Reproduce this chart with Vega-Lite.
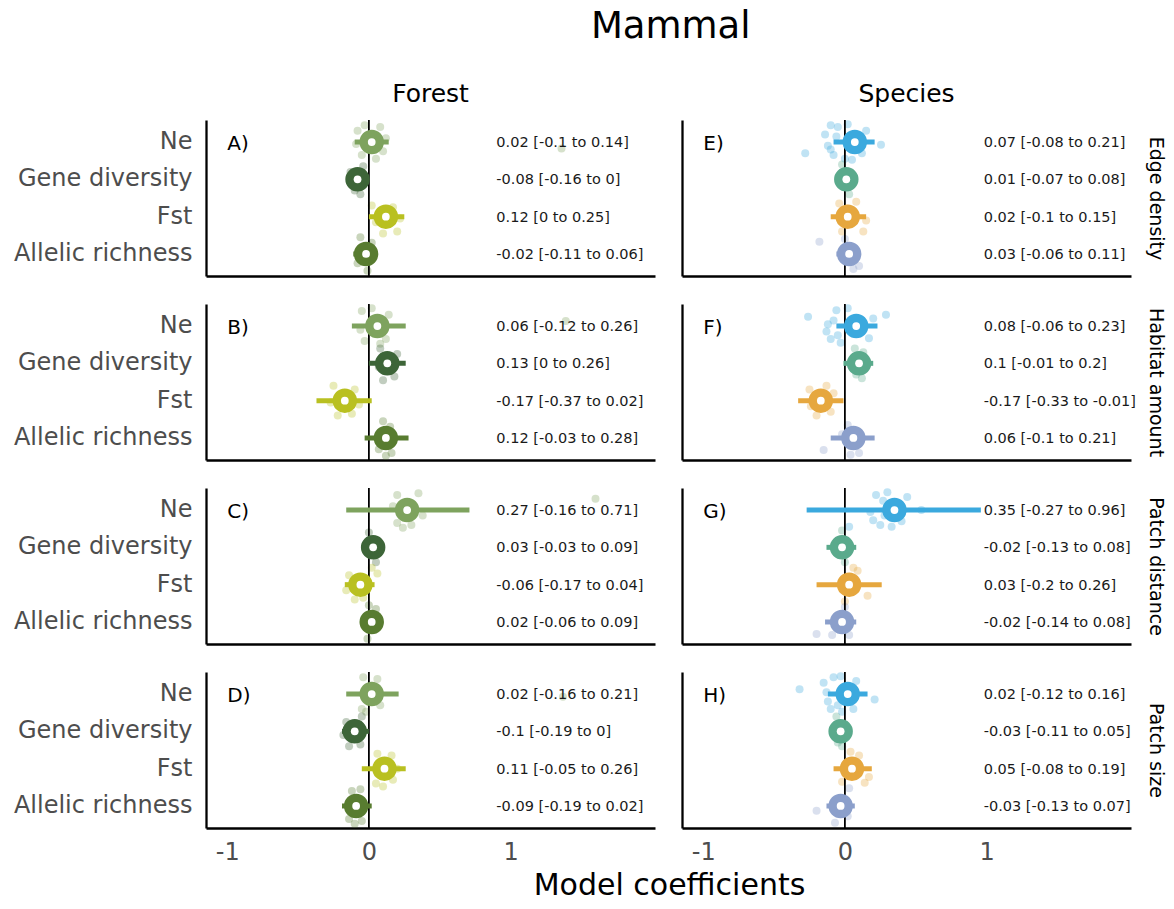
{
  "$schema": "https://vega.github.io/schema/vega-lite/v6.json",
  "padding": {"left": 13, "top": 8, "right": 5, "bottom": 5},
  "background": "white",
  "title": {"text": "Mammal", "fontSize": 37, "anchor": "middle", "dx": 82, "offset": 36},
  "datasets": {
    "est": [
      {"set": "Forest", "eff": "Edge density", "var": "Ne", "est": 0.02, "lo": -0.1, "hi": 0.14},
      {"set": "Forest", "eff": "Edge density", "var": "Gene diversity", "est": -0.08, "lo": -0.16, "hi": 0},
      {"set": "Forest", "eff": "Edge density", "var": "Fst", "est": 0.12, "lo": 0, "hi": 0.25},
      {"set": "Forest", "eff": "Edge density", "var": "Allelic richness", "est": -0.02, "lo": -0.11, "hi": 0.06},
      {"set": "Forest", "eff": "Habitat amount", "var": "Ne", "est": 0.06, "lo": -0.12, "hi": 0.26},
      {"set": "Forest", "eff": "Habitat amount", "var": "Gene diversity", "est": 0.13, "lo": 0, "hi": 0.26},
      {"set": "Forest", "eff": "Habitat amount", "var": "Fst", "est": -0.17, "lo": -0.37, "hi": 0.02},
      {"set": "Forest", "eff": "Habitat amount", "var": "Allelic richness", "est": 0.12, "lo": -0.03, "hi": 0.28},
      {"set": "Forest", "eff": "Patch distance", "var": "Ne", "est": 0.27, "lo": -0.16, "hi": 0.71},
      {"set": "Forest", "eff": "Patch distance", "var": "Gene diversity", "est": 0.03, "lo": -0.03, "hi": 0.09},
      {"set": "Forest", "eff": "Patch distance", "var": "Fst", "est": -0.06, "lo": -0.17, "hi": 0.04},
      {"set": "Forest", "eff": "Patch distance", "var": "Allelic richness", "est": 0.02, "lo": -0.06, "hi": 0.09},
      {"set": "Forest", "eff": "Patch size", "var": "Ne", "est": 0.02, "lo": -0.16, "hi": 0.21},
      {"set": "Forest", "eff": "Patch size", "var": "Gene diversity", "est": -0.1, "lo": -0.19, "hi": 0},
      {"set": "Forest", "eff": "Patch size", "var": "Fst", "est": 0.11, "lo": -0.05, "hi": 0.26},
      {"set": "Forest", "eff": "Patch size", "var": "Allelic richness", "est": -0.09, "lo": -0.19, "hi": 0.02},
      {"set": "Species", "eff": "Edge density", "var": "Ne", "est": 0.07, "lo": -0.08, "hi": 0.21},
      {"set": "Species", "eff": "Edge density", "var": "Gene diversity", "est": 0.01, "lo": -0.07, "hi": 0.08},
      {"set": "Species", "eff": "Edge density", "var": "Fst", "est": 0.02, "lo": -0.1, "hi": 0.15},
      {"set": "Species", "eff": "Edge density", "var": "Allelic richness", "est": 0.03, "lo": -0.06, "hi": 0.11},
      {"set": "Species", "eff": "Habitat amount", "var": "Ne", "est": 0.08, "lo": -0.06, "hi": 0.23},
      {"set": "Species", "eff": "Habitat amount", "var": "Gene diversity", "est": 0.1, "lo": -0.01, "hi": 0.2},
      {"set": "Species", "eff": "Habitat amount", "var": "Fst", "est": -0.17, "lo": -0.33, "hi": -0.01},
      {"set": "Species", "eff": "Habitat amount", "var": "Allelic richness", "est": 0.06, "lo": -0.1, "hi": 0.21},
      {"set": "Species", "eff": "Patch distance", "var": "Ne", "est": 0.35, "lo": -0.27, "hi": 0.96},
      {"set": "Species", "eff": "Patch distance", "var": "Gene diversity", "est": -0.02, "lo": -0.13, "hi": 0.08},
      {"set": "Species", "eff": "Patch distance", "var": "Fst", "est": 0.03, "lo": -0.2, "hi": 0.26},
      {"set": "Species", "eff": "Patch distance", "var": "Allelic richness", "est": -0.02, "lo": -0.14, "hi": 0.08},
      {"set": "Species", "eff": "Patch size", "var": "Ne", "est": 0.02, "lo": -0.12, "hi": 0.16},
      {"set": "Species", "eff": "Patch size", "var": "Gene diversity", "est": -0.03, "lo": -0.11, "hi": 0.05},
      {"set": "Species", "eff": "Patch size", "var": "Fst", "est": 0.05, "lo": -0.08, "hi": 0.19},
      {"set": "Species", "eff": "Patch size", "var": "Allelic richness", "est": -0.03, "lo": -0.13, "hi": 0.07}
    ],
    "pts": [
      {"set": "Forest", "eff": "Edge density", "var": "Ne", "x": -0.08, "j": -0.6},
      {"set": "Forest", "eff": "Edge density", "var": "Ne", "x": -0.05, "j": 0.7},
      {"set": "Forest", "eff": "Edge density", "var": "Ne", "x": 0.08, "j": -0.8},
      {"set": "Forest", "eff": "Edge density", "var": "Ne", "x": 0.1, "j": 0.5},
      {"set": "Forest", "eff": "Edge density", "var": "Ne", "x": -0.03, "j": -0.9},
      {"set": "Forest", "eff": "Edge density", "var": "Ne", "x": 0.05, "j": 0.9},
      {"set": "Forest", "eff": "Edge density", "var": "Ne", "x": 1.36, "j": 0.35},
      {"set": "Forest", "eff": "Edge density", "var": "Ne", "x": -0.09, "j": 0.1},
      {"set": "Forest", "eff": "Edge density", "var": "Ne", "x": 0.12, "j": -0.2},
      {"set": "Forest", "eff": "Edge density", "var": "Gene diversity", "x": -0.13, "j": -0.4},
      {"set": "Forest", "eff": "Edge density", "var": "Gene diversity", "x": -0.1, "j": 0.6},
      {"set": "Forest", "eff": "Edge density", "var": "Gene diversity", "x": -0.04, "j": -0.7},
      {"set": "Forest", "eff": "Edge density", "var": "Gene diversity", "x": -0.06, "j": 0.8},
      {"set": "Forest", "eff": "Edge density", "var": "Fst", "x": 0.02, "j": -0.6},
      {"set": "Forest", "eff": "Edge density", "var": "Fst", "x": 0.1, "j": 0.9},
      {"set": "Forest", "eff": "Edge density", "var": "Fst", "x": 0.2, "j": 0.8},
      {"set": "Forest", "eff": "Edge density", "var": "Fst", "x": 0.05, "j": 0.3},
      {"set": "Forest", "eff": "Edge density", "var": "Fst", "x": 0.17, "j": -0.5},
      {"set": "Forest", "eff": "Edge density", "var": "Fst", "x": 0.22, "j": 0.1},
      {"set": "Forest", "eff": "Edge density", "var": "Allelic richness", "x": -0.06, "j": -0.9},
      {"set": "Forest", "eff": "Edge density", "var": "Allelic richness", "x": -0.01, "j": 0.9},
      {"set": "Forest", "eff": "Edge density", "var": "Allelic richness", "x": -0.08, "j": 0.5},
      {"set": "Forest", "eff": "Edge density", "var": "Allelic richness", "x": 0.02, "j": -0.6},
      {"set": "Forest", "eff": "Edge density", "var": "Allelic richness", "x": -0.04, "j": 0.3},
      {"set": "Forest", "eff": "Habitat amount", "var": "Ne", "x": -0.05, "j": -0.8},
      {"set": "Forest", "eff": "Habitat amount", "var": "Ne", "x": 0.12, "j": 0.7},
      {"set": "Forest", "eff": "Habitat amount", "var": "Ne", "x": -0.03, "j": 0.8},
      {"set": "Forest", "eff": "Habitat amount", "var": "Ne", "x": 0.14, "j": -0.6},
      {"set": "Forest", "eff": "Habitat amount", "var": "Ne", "x": 0.02, "j": -0.95},
      {"set": "Forest", "eff": "Habitat amount", "var": "Ne", "x": 1.39, "j": -0.27},
      {"set": "Forest", "eff": "Habitat amount", "var": "Ne", "x": -0.06, "j": 0.2},
      {"set": "Forest", "eff": "Habitat amount", "var": "Ne", "x": 0.08, "j": 0.95},
      {"set": "Forest", "eff": "Habitat amount", "var": "Gene diversity", "x": 0.08, "j": -0.8},
      {"set": "Forest", "eff": "Habitat amount", "var": "Gene diversity", "x": 0.2, "j": -0.5},
      {"set": "Forest", "eff": "Habitat amount", "var": "Gene diversity", "x": 0.18, "j": 0.7},
      {"set": "Forest", "eff": "Habitat amount", "var": "Gene diversity", "x": 0.1, "j": 0.9},
      {"set": "Forest", "eff": "Habitat amount", "var": "Gene diversity", "x": 0.07, "j": 0.2},
      {"set": "Forest", "eff": "Habitat amount", "var": "Fst", "x": -0.25, "j": -0.8},
      {"set": "Forest", "eff": "Habitat amount", "var": "Fst", "x": -0.1, "j": -0.6},
      {"set": "Forest", "eff": "Habitat amount", "var": "Fst", "x": -0.22, "j": 0.8},
      {"set": "Forest", "eff": "Habitat amount", "var": "Fst", "x": -0.12, "j": 0.7},
      {"set": "Forest", "eff": "Habitat amount", "var": "Fst", "x": -0.27, "j": 0.1},
      {"set": "Forest", "eff": "Habitat amount", "var": "Fst", "x": -0.07, "j": 0.2},
      {"set": "Forest", "eff": "Habitat amount", "var": "Allelic richness", "x": 0.1, "j": -0.9},
      {"set": "Forest", "eff": "Habitat amount", "var": "Allelic richness", "x": 0.16, "j": 0.8},
      {"set": "Forest", "eff": "Habitat amount", "var": "Allelic richness", "x": 0.07, "j": 0.6},
      {"set": "Forest", "eff": "Habitat amount", "var": "Allelic richness", "x": 0.15, "j": -0.6},
      {"set": "Forest", "eff": "Habitat amount", "var": "Allelic richness", "x": 0.12, "j": 0.95},
      {"set": "Forest", "eff": "Patch distance", "var": "Ne", "x": 0.2, "j": -0.8},
      {"set": "Forest", "eff": "Patch distance", "var": "Ne", "x": 0.35, "j": -0.9},
      {"set": "Forest", "eff": "Patch distance", "var": "Ne", "x": 0.2, "j": 0.7},
      {"set": "Forest", "eff": "Patch distance", "var": "Ne", "x": 0.3, "j": 0.8},
      {"set": "Forest", "eff": "Patch distance", "var": "Ne", "x": 0.38, "j": 0.3},
      {"set": "Forest", "eff": "Patch distance", "var": "Ne", "x": 0.17, "j": -0.2},
      {"set": "Forest", "eff": "Patch distance", "var": "Ne", "x": 1.6, "j": -0.6},
      {"set": "Forest", "eff": "Patch distance", "var": "Ne", "x": 0.24, "j": 0.95},
      {"set": "Forest", "eff": "Patch distance", "var": "Gene diversity", "x": 0.0, "j": -0.8},
      {"set": "Forest", "eff": "Patch distance", "var": "Gene diversity", "x": 0.05, "j": 0.8},
      {"set": "Forest", "eff": "Patch distance", "var": "Gene diversity", "x": -0.02, "j": 0.2},
      {"set": "Forest", "eff": "Patch distance", "var": "Fst", "x": -0.14, "j": -0.5},
      {"set": "Forest", "eff": "Patch distance", "var": "Fst", "x": -0.1, "j": 0.8},
      {"set": "Forest", "eff": "Patch distance", "var": "Fst", "x": 0.06, "j": -0.6},
      {"set": "Forest", "eff": "Patch distance", "var": "Fst", "x": -0.04, "j": 0.7},
      {"set": "Forest", "eff": "Patch distance", "var": "Fst", "x": -0.16, "j": 0.3},
      {"set": "Forest", "eff": "Patch distance", "var": "Fst", "x": 0.02, "j": -0.9},
      {"set": "Forest", "eff": "Patch distance", "var": "Allelic richness", "x": 0.0, "j": -0.9},
      {"set": "Forest", "eff": "Patch distance", "var": "Allelic richness", "x": 0.05, "j": -0.7},
      {"set": "Forest", "eff": "Patch distance", "var": "Allelic richness", "x": -0.01, "j": 0.9},
      {"set": "Forest", "eff": "Patch size", "var": "Ne", "x": -0.04, "j": -0.9},
      {"set": "Forest", "eff": "Patch size", "var": "Ne", "x": 0.06, "j": -0.8},
      {"set": "Forest", "eff": "Patch size", "var": "Ne", "x": -0.05, "j": 0.8},
      {"set": "Forest", "eff": "Patch size", "var": "Ne", "x": 0.08, "j": 0.6},
      {"set": "Forest", "eff": "Patch size", "var": "Ne", "x": 1.37, "j": 0.15},
      {"set": "Forest", "eff": "Patch size", "var": "Ne", "x": -0.02, "j": 0.95},
      {"set": "Forest", "eff": "Patch size", "var": "Gene diversity", "x": -0.16, "j": -0.5},
      {"set": "Forest", "eff": "Patch size", "var": "Gene diversity", "x": -0.05, "j": -0.8},
      {"set": "Forest", "eff": "Patch size", "var": "Gene diversity", "x": -0.14, "j": 0.8},
      {"set": "Forest", "eff": "Patch size", "var": "Gene diversity", "x": -0.06, "j": 0.7},
      {"set": "Forest", "eff": "Patch size", "var": "Gene diversity", "x": -0.18, "j": 0.2},
      {"set": "Forest", "eff": "Patch size", "var": "Fst", "x": 0.06, "j": -0.8},
      {"set": "Forest", "eff": "Patch size", "var": "Fst", "x": 0.16, "j": -0.7},
      {"set": "Forest", "eff": "Patch size", "var": "Fst", "x": 0.05, "j": 0.8},
      {"set": "Forest", "eff": "Patch size", "var": "Fst", "x": 0.17, "j": 0.6},
      {"set": "Forest", "eff": "Patch size", "var": "Fst", "x": 0.2, "j": 0.0},
      {"set": "Forest", "eff": "Patch size", "var": "Fst", "x": 0.1, "j": 0.95},
      {"set": "Forest", "eff": "Patch size", "var": "Allelic richness", "x": -0.12, "j": -0.8},
      {"set": "Forest", "eff": "Patch size", "var": "Allelic richness", "x": -0.06, "j": -0.9},
      {"set": "Forest", "eff": "Patch size", "var": "Allelic richness", "x": -0.14, "j": 0.7},
      {"set": "Forest", "eff": "Patch size", "var": "Allelic richness", "x": -0.05, "j": 0.8},
      {"set": "Forest", "eff": "Patch size", "var": "Allelic richness", "x": -0.1, "j": 0.95},
      {"set": "Species", "eff": "Edge density", "var": "Ne", "x": -0.28, "j": 0.6},
      {"set": "Species", "eff": "Edge density", "var": "Ne", "x": 0.255, "j": 0.15},
      {"set": "Species", "eff": "Edge density", "var": "Ne", "x": -0.1, "j": -0.9},
      {"set": "Species", "eff": "Edge density", "var": "Ne", "x": -0.05, "j": -0.8},
      {"set": "Species", "eff": "Edge density", "var": "Ne", "x": 0.02, "j": -0.95},
      {"set": "Species", "eff": "Edge density", "var": "Ne", "x": -0.12, "j": 0.2},
      {"set": "Species", "eff": "Edge density", "var": "Ne", "x": -0.08, "j": 0.7},
      {"set": "Species", "eff": "Edge density", "var": "Ne", "x": 0.0, "j": 0.9},
      {"set": "Species", "eff": "Edge density", "var": "Ne", "x": 0.12, "j": 0.6},
      {"set": "Species", "eff": "Edge density", "var": "Ne", "x": -0.14, "j": -0.4},
      {"set": "Species", "eff": "Edge density", "var": "Ne", "x": 0.15, "j": -0.6},
      {"set": "Species", "eff": "Edge density", "var": "Ne", "x": -0.1, "j": 0.4},
      {"set": "Species", "eff": "Edge density", "var": "Ne", "x": 0.05, "j": 0.95},
      {"set": "Species", "eff": "Edge density", "var": "Ne", "x": -0.06, "j": -0.3},
      {"set": "Species", "eff": "Edge density", "var": "Gene diversity", "x": -0.02, "j": -0.8},
      {"set": "Species", "eff": "Edge density", "var": "Gene diversity", "x": 0.03, "j": 0.8},
      {"set": "Species", "eff": "Edge density", "var": "Fst", "x": -0.04, "j": -0.7},
      {"set": "Species", "eff": "Edge density", "var": "Fst", "x": 0.15, "j": 0.2},
      {"set": "Species", "eff": "Edge density", "var": "Fst", "x": 0.13, "j": 0.8},
      {"set": "Species", "eff": "Edge density", "var": "Fst", "x": 0.08, "j": -0.8},
      {"set": "Species", "eff": "Edge density", "var": "Fst", "x": -0.02, "j": 0.8},
      {"set": "Species", "eff": "Edge density", "var": "Allelic richness", "x": -0.18, "j": -0.65},
      {"set": "Species", "eff": "Edge density", "var": "Allelic richness", "x": 0.1, "j": 0.65},
      {"set": "Species", "eff": "Edge density", "var": "Allelic richness", "x": 0.06, "j": 0.8},
      {"set": "Species", "eff": "Edge density", "var": "Allelic richness", "x": 0.0, "j": -0.8},
      {"set": "Species", "eff": "Habitat amount", "var": "Ne", "x": -0.26, "j": -0.5},
      {"set": "Species", "eff": "Habitat amount", "var": "Ne", "x": 0.29, "j": -0.6},
      {"set": "Species", "eff": "Habitat amount", "var": "Ne", "x": -0.06, "j": -0.85},
      {"set": "Species", "eff": "Habitat amount", "var": "Ne", "x": 0.17, "j": 0.65},
      {"set": "Species", "eff": "Habitat amount", "var": "Ne", "x": -0.13, "j": 0.3},
      {"set": "Species", "eff": "Habitat amount", "var": "Ne", "x": -0.08, "j": -0.3},
      {"set": "Species", "eff": "Habitat amount", "var": "Ne", "x": -0.1, "j": 0.7},
      {"set": "Species", "eff": "Habitat amount", "var": "Ne", "x": -0.03, "j": 0.9},
      {"set": "Species", "eff": "Habitat amount", "var": "Ne", "x": 0.02, "j": -0.95},
      {"set": "Species", "eff": "Habitat amount", "var": "Ne", "x": -0.12, "j": -0.1},
      {"set": "Species", "eff": "Habitat amount", "var": "Ne", "x": -0.05, "j": 0.5},
      {"set": "Species", "eff": "Habitat amount", "var": "Ne", "x": 0.2, "j": -0.4},
      {"set": "Species", "eff": "Habitat amount", "var": "Gene diversity", "x": 0.07, "j": -0.8},
      {"set": "Species", "eff": "Habitat amount", "var": "Gene diversity", "x": 0.12, "j": 0.8},
      {"set": "Species", "eff": "Habitat amount", "var": "Gene diversity", "x": 0.08, "j": 0.6},
      {"set": "Species", "eff": "Habitat amount", "var": "Gene diversity", "x": 0.13, "j": -0.6},
      {"set": "Species", "eff": "Habitat amount", "var": "Fst", "x": -0.25, "j": -0.6},
      {"set": "Species", "eff": "Habitat amount", "var": "Fst", "x": -0.2, "j": 0.8},
      {"set": "Species", "eff": "Habitat amount", "var": "Fst", "x": -0.08, "j": -0.4},
      {"set": "Species", "eff": "Habitat amount", "var": "Fst", "x": -0.1, "j": 0.6},
      {"set": "Species", "eff": "Habitat amount", "var": "Fst", "x": -0.13, "j": -0.8},
      {"set": "Species", "eff": "Habitat amount", "var": "Fst", "x": -0.24, "j": 0.3},
      {"set": "Species", "eff": "Habitat amount", "var": "Allelic richness", "x": -0.15, "j": 0.65},
      {"set": "Species", "eff": "Habitat amount", "var": "Allelic richness", "x": 0.02, "j": -0.7},
      {"set": "Species", "eff": "Habitat amount", "var": "Allelic richness", "x": 0.1, "j": 0.8},
      {"set": "Species", "eff": "Habitat amount", "var": "Allelic richness", "x": 0.04, "j": 0.9},
      {"set": "Species", "eff": "Habitat amount", "var": "Allelic richness", "x": -0.02, "j": -0.2},
      {"set": "Species", "eff": "Patch distance", "var": "Ne", "x": 0.2, "j": 0.55},
      {"set": "Species", "eff": "Patch distance", "var": "Ne", "x": 0.54, "j": 0.0},
      {"set": "Species", "eff": "Patch distance", "var": "Ne", "x": 0.44, "j": -0.7},
      {"set": "Species", "eff": "Patch distance", "var": "Ne", "x": 0.22, "j": -0.8},
      {"set": "Species", "eff": "Patch distance", "var": "Ne", "x": 0.3, "j": -0.95},
      {"set": "Species", "eff": "Patch distance", "var": "Ne", "x": 0.25, "j": 0.8},
      {"set": "Species", "eff": "Patch distance", "var": "Ne", "x": 0.4, "j": 0.6},
      {"set": "Species", "eff": "Patch distance", "var": "Ne", "x": 0.18, "j": 0.1},
      {"set": "Species", "eff": "Patch distance", "var": "Ne", "x": 0.27, "j": -0.5},
      {"set": "Species", "eff": "Patch distance", "var": "Ne", "x": 0.33, "j": 0.9},
      {"set": "Species", "eff": "Patch distance", "var": "Ne", "x": 0.28, "j": 0.3},
      {"set": "Species", "eff": "Patch distance", "var": "Ne", "x": 0.03, "j": 0.9},
      {"set": "Species", "eff": "Patch distance", "var": "Gene diversity", "x": -0.06, "j": 0.0},
      {"set": "Species", "eff": "Patch distance", "var": "Gene diversity", "x": -0.02, "j": -0.9},
      {"set": "Species", "eff": "Patch distance", "var": "Gene diversity", "x": 0.0, "j": 0.8},
      {"set": "Species", "eff": "Patch distance", "var": "Fst", "x": 0.09, "j": -0.75},
      {"set": "Species", "eff": "Patch distance", "var": "Fst", "x": 0.16, "j": 0.6},
      {"set": "Species", "eff": "Patch distance", "var": "Fst", "x": 0.0, "j": 0.9},
      {"set": "Species", "eff": "Patch distance", "var": "Fst", "x": 0.06, "j": -0.9},
      {"set": "Species", "eff": "Patch distance", "var": "Allelic richness", "x": -0.2, "j": 0.65},
      {"set": "Species", "eff": "Patch distance", "var": "Allelic richness", "x": 0.03, "j": 0.7},
      {"set": "Species", "eff": "Patch distance", "var": "Allelic richness", "x": -0.09, "j": 0.7},
      {"set": "Species", "eff": "Patch distance", "var": "Allelic richness", "x": 0.0, "j": -0.8},
      {"set": "Species", "eff": "Patch size", "var": "Ne", "x": -0.32, "j": -0.25},
      {"set": "Species", "eff": "Patch size", "var": "Ne", "x": 0.21, "j": 0.3},
      {"set": "Species", "eff": "Patch size", "var": "Ne", "x": -0.15, "j": -0.6},
      {"set": "Species", "eff": "Patch size", "var": "Ne", "x": -0.12, "j": 0.4},
      {"set": "Species", "eff": "Patch size", "var": "Ne", "x": -0.08, "j": -0.9},
      {"set": "Species", "eff": "Patch size", "var": "Ne", "x": -0.03, "j": -0.95},
      {"set": "Species", "eff": "Patch size", "var": "Ne", "x": -0.1, "j": 0.8},
      {"set": "Species", "eff": "Patch size", "var": "Ne", "x": 0.06, "j": 0.8},
      {"set": "Species", "eff": "Patch size", "var": "Ne", "x": -0.05, "j": 0.6},
      {"set": "Species", "eff": "Patch size", "var": "Ne", "x": -0.13, "j": -0.1},
      {"set": "Species", "eff": "Patch size", "var": "Ne", "x": 0.08, "j": -0.7},
      {"set": "Species", "eff": "Patch size", "var": "Ne", "x": -0.02, "j": 0.95},
      {"set": "Species", "eff": "Patch size", "var": "Gene diversity", "x": -0.06, "j": -0.8},
      {"set": "Species", "eff": "Patch size", "var": "Gene diversity", "x": -0.02, "j": 0.8},
      {"set": "Species", "eff": "Patch size", "var": "Gene diversity", "x": -0.05, "j": 0.6},
      {"set": "Species", "eff": "Patch size", "var": "Fst", "x": 0.17, "j": 0.45},
      {"set": "Species", "eff": "Patch size", "var": "Fst", "x": 0.14, "j": 0.75},
      {"set": "Species", "eff": "Patch size", "var": "Fst", "x": 0.1, "j": -0.7},
      {"set": "Species", "eff": "Patch size", "var": "Fst", "x": -0.02, "j": 0.7},
      {"set": "Species", "eff": "Patch size", "var": "Fst", "x": 0.04, "j": -0.9},
      {"set": "Species", "eff": "Patch size", "var": "Allelic richness", "x": -0.2, "j": 0.25},
      {"set": "Species", "eff": "Patch size", "var": "Allelic richness", "x": 0.03, "j": -0.95},
      {"set": "Species", "eff": "Patch size", "var": "Allelic richness", "x": 0.02, "j": 0.55},
      {"set": "Species", "eff": "Patch size", "var": "Allelic richness", "x": -0.07, "j": 0.9}
    ]
  },
  "spacing": 26,
  "vconcat": [
    {
      "spacing": 27,
      "hconcat": [
        {
          "width": 449, "height": 156,
          "title": {"text": "Forest", "offset": 12},
          "layer": [
            {"data": {"name": "pts"}, "transform": [{"filter": "datum.set === 'Forest' && datum.eff === 'Edge density'"}, {"calculate": "datum.set + ' ' + datum.var", "as": "grp"}],
             "mark": {"type": "circle", "size": 64, "opacity": 0.32},
             "encoding": {
               "x": {"field": "x", "type": "quantitative"},
               "y": {"field": "var", "type": "nominal", "scale": {"type": "band", "domain": ["Ne", "Gene diversity", "Fst", "Allelic richness"], "paddingInner": 0, "paddingOuter": 0.09}, "axis": {"title": null, "labelFontSize": 24, "labelPadding": 14}},
               "yOffset": {"field": "j", "type": "quantitative", "scale": {"domain": [-1, 1]}},
               "color": {"field": "grp", "type": "nominal", "legend": null, "scale": {"domain": ["Forest Ne", "Forest Gene diversity", "Forest Fst", "Forest Allelic richness", "Species Ne", "Species Gene diversity", "Species Fst", "Species Allelic richness"], "range": ["#7ea35e", "#3d6538", "#b9c021", "#587c30", "#3ba9de", "#5aaa8c", "#e6a73e", "#8b9fcb"]}}
             }},
            {"data": {"values": [{"z": 0}]}, "mark": {"type": "rule", "color": "black", "strokeWidth": 1.8},
             "encoding": {"x": {"field": "z", "type": "quantitative", "scale": {"domain": [-1.15, 2.02], "nice": false, "zero": false}, "axis": {"values": [-1, 0, 1], "labels": false, "title": null}}}},
            {"data": {"name": "est"}, "transform": [{"filter": "datum.set === 'Forest' && datum.eff === 'Edge density'"}, {"calculate": "datum.set + ' ' + datum.var", "as": "grp"}, {"calculate": "datum.est + ' [' + datum.lo + ' to ' + datum.hi + ']'", "as": "lab"}],
             "encoding": {
               "y": {"field": "var", "type": "nominal"},
               "color": {"field": "grp", "type": "nominal", "legend": null}
             },
             "layer": [
               {"mark": {"type": "rule", "strokeWidth": 5}, "encoding": {"x": {"field": "lo", "type": "quantitative"}, "x2": {"field": "hi"}}},
               {"mark": {"type": "circle", "size": 600, "opacity": 1}, "encoding": {"x": {"field": "est", "type": "quantitative"}}},
               {"mark": {"type": "circle", "size": 60, "opacity": 1}, "encoding": {"x": {"field": "est", "type": "quantitative"}, "color": {"value": "white"}}},
               {"mark": {"type": "text", "align": "left", "baseline": "middle", "fontSize": 14.5, "dy": 1}, "encoding": {"x": {"datum": 0.9, "type": "quantitative"}, "text": {"field": "lab"}, "color": {"value": "#1a1a1a"}}}
             ]},
            {"data": {"values": [{"var": "Ne", "letter": "A)"}]}, "mark": {"type": "text", "align": "left", "baseline": "middle", "fontSize": 20, "dy": 2},
             "encoding": {"x": {"datum": -1, "type": "quantitative"}, "y": {"field": "var", "type": "nominal"}, "text": {"field": "letter"}, "color": {"value": "black"}}}
          ]
        },
        {
          "width": 449, "height": 156,
          "title": {"text": "Species", "offset": 12},
          "layer": [
            {"data": {"name": "pts"}, "transform": [{"filter": "datum.set === 'Species' && datum.eff === 'Edge density'"}, {"calculate": "datum.set + ' ' + datum.var", "as": "grp"}],
             "mark": {"type": "circle", "size": 64, "opacity": 0.32},
             "encoding": {
               "x": {"field": "x", "type": "quantitative"},
               "y": {"field": "var", "type": "nominal", "scale": {"type": "band", "domain": ["Ne", "Gene diversity", "Fst", "Allelic richness"], "paddingInner": 0, "paddingOuter": 0.09}, "axis": {"labels": false, "title": "Edge density", "titleX": 473, "titleY": 78, "titleAngle": 90, "titleFontSize": 19, "titleAlign": "center", "titleBaseline": "middle"}},
               "yOffset": {"field": "j", "type": "quantitative", "scale": {"domain": [-1, 1]}},
               "color": {"field": "grp", "type": "nominal", "legend": null, "scale": {"domain": ["Forest Ne", "Forest Gene diversity", "Forest Fst", "Forest Allelic richness", "Species Ne", "Species Gene diversity", "Species Fst", "Species Allelic richness"], "range": ["#7ea35e", "#3d6538", "#b9c021", "#587c30", "#3ba9de", "#5aaa8c", "#e6a73e", "#8b9fcb"]}}
             }},
            {"data": {"values": [{"z": 0}]}, "mark": {"type": "rule", "color": "black", "strokeWidth": 1.8},
             "encoding": {"x": {"field": "z", "type": "quantitative", "scale": {"domain": [-1.15, 2.02], "nice": false, "zero": false}, "axis": {"values": [-1, 0, 1], "labels": false, "title": null}}}},
            {"data": {"name": "est"}, "transform": [{"filter": "datum.set === 'Species' && datum.eff === 'Edge density'"}, {"calculate": "datum.set + ' ' + datum.var", "as": "grp"}, {"calculate": "datum.est + ' [' + datum.lo + ' to ' + datum.hi + ']'", "as": "lab"}],
             "encoding": {
               "y": {"field": "var", "type": "nominal"},
               "color": {"field": "grp", "type": "nominal", "legend": null}
             },
             "layer": [
               {"mark": {"type": "rule", "strokeWidth": 5}, "encoding": {"x": {"field": "lo", "type": "quantitative"}, "x2": {"field": "hi"}}},
               {"mark": {"type": "circle", "size": 600, "opacity": 1}, "encoding": {"x": {"field": "est", "type": "quantitative"}}},
               {"mark": {"type": "circle", "size": 60, "opacity": 1}, "encoding": {"x": {"field": "est", "type": "quantitative"}, "color": {"value": "white"}}},
               {"mark": {"type": "text", "align": "left", "baseline": "middle", "fontSize": 14.5, "dy": 1}, "encoding": {"x": {"datum": 0.98, "type": "quantitative"}, "text": {"field": "lab"}, "color": {"value": "#1a1a1a"}}}
             ]},
            {"data": {"values": [{"var": "Ne", "letter": "E)"}]}, "mark": {"type": "text", "align": "left", "baseline": "middle", "fontSize": 20, "dy": 2},
             "encoding": {"x": {"datum": -1, "type": "quantitative"}, "y": {"field": "var", "type": "nominal"}, "text": {"field": "letter"}, "color": {"value": "black"}}}
          ]
        }
      ]
    },
    {
      "spacing": 27,
      "hconcat": [
        {
          "width": 449, "height": 156,
          "layer": [
            {"data": {"name": "pts"}, "transform": [{"filter": "datum.set === 'Forest' && datum.eff === 'Habitat amount'"}, {"calculate": "datum.set + ' ' + datum.var", "as": "grp"}],
             "mark": {"type": "circle", "size": 64, "opacity": 0.32},
             "encoding": {
               "x": {"field": "x", "type": "quantitative"},
               "y": {"field": "var", "type": "nominal", "scale": {"type": "band", "domain": ["Ne", "Gene diversity", "Fst", "Allelic richness"], "paddingInner": 0, "paddingOuter": 0.09}, "axis": {"title": null, "labelFontSize": 24, "labelPadding": 14}},
               "yOffset": {"field": "j", "type": "quantitative", "scale": {"domain": [-1, 1]}},
               "color": {"field": "grp", "type": "nominal", "legend": null, "scale": {"domain": ["Forest Ne", "Forest Gene diversity", "Forest Fst", "Forest Allelic richness", "Species Ne", "Species Gene diversity", "Species Fst", "Species Allelic richness"], "range": ["#7ea35e", "#3d6538", "#b9c021", "#587c30", "#3ba9de", "#5aaa8c", "#e6a73e", "#8b9fcb"]}}
             }},
            {"data": {"values": [{"z": 0}]}, "mark": {"type": "rule", "color": "black", "strokeWidth": 1.8},
             "encoding": {"x": {"field": "z", "type": "quantitative", "scale": {"domain": [-1.15, 2.02], "nice": false, "zero": false}, "axis": {"values": [-1, 0, 1], "labels": false, "title": null}}}},
            {"data": {"name": "est"}, "transform": [{"filter": "datum.set === 'Forest' && datum.eff === 'Habitat amount'"}, {"calculate": "datum.set + ' ' + datum.var", "as": "grp"}, {"calculate": "datum.est + ' [' + datum.lo + ' to ' + datum.hi + ']'", "as": "lab"}],
             "encoding": {
               "y": {"field": "var", "type": "nominal"},
               "color": {"field": "grp", "type": "nominal", "legend": null}
             },
             "layer": [
               {"mark": {"type": "rule", "strokeWidth": 5}, "encoding": {"x": {"field": "lo", "type": "quantitative"}, "x2": {"field": "hi"}}},
               {"mark": {"type": "circle", "size": 600, "opacity": 1}, "encoding": {"x": {"field": "est", "type": "quantitative"}}},
               {"mark": {"type": "circle", "size": 60, "opacity": 1}, "encoding": {"x": {"field": "est", "type": "quantitative"}, "color": {"value": "white"}}},
               {"mark": {"type": "text", "align": "left", "baseline": "middle", "fontSize": 14.5, "dy": 1}, "encoding": {"x": {"datum": 0.9, "type": "quantitative"}, "text": {"field": "lab"}, "color": {"value": "#1a1a1a"}}}
             ]},
            {"data": {"values": [{"var": "Ne", "letter": "B)"}]}, "mark": {"type": "text", "align": "left", "baseline": "middle", "fontSize": 20, "dy": 2},
             "encoding": {"x": {"datum": -1, "type": "quantitative"}, "y": {"field": "var", "type": "nominal"}, "text": {"field": "letter"}, "color": {"value": "black"}}}
          ]
        },
        {
          "width": 449, "height": 156,
          "layer": [
            {"data": {"name": "pts"}, "transform": [{"filter": "datum.set === 'Species' && datum.eff === 'Habitat amount'"}, {"calculate": "datum.set + ' ' + datum.var", "as": "grp"}],
             "mark": {"type": "circle", "size": 64, "opacity": 0.32},
             "encoding": {
               "x": {"field": "x", "type": "quantitative"},
               "y": {"field": "var", "type": "nominal", "scale": {"type": "band", "domain": ["Ne", "Gene diversity", "Fst", "Allelic richness"], "paddingInner": 0, "paddingOuter": 0.09}, "axis": {"labels": false, "title": "Habitat amount", "titleX": 473, "titleY": 78, "titleAngle": 90, "titleFontSize": 19, "titleAlign": "center", "titleBaseline": "middle"}},
               "yOffset": {"field": "j", "type": "quantitative", "scale": {"domain": [-1, 1]}},
               "color": {"field": "grp", "type": "nominal", "legend": null, "scale": {"domain": ["Forest Ne", "Forest Gene diversity", "Forest Fst", "Forest Allelic richness", "Species Ne", "Species Gene diversity", "Species Fst", "Species Allelic richness"], "range": ["#7ea35e", "#3d6538", "#b9c021", "#587c30", "#3ba9de", "#5aaa8c", "#e6a73e", "#8b9fcb"]}}
             }},
            {"data": {"values": [{"z": 0}]}, "mark": {"type": "rule", "color": "black", "strokeWidth": 1.8},
             "encoding": {"x": {"field": "z", "type": "quantitative", "scale": {"domain": [-1.15, 2.02], "nice": false, "zero": false}, "axis": {"values": [-1, 0, 1], "labels": false, "title": null}}}},
            {"data": {"name": "est"}, "transform": [{"filter": "datum.set === 'Species' && datum.eff === 'Habitat amount'"}, {"calculate": "datum.set + ' ' + datum.var", "as": "grp"}, {"calculate": "datum.est + ' [' + datum.lo + ' to ' + datum.hi + ']'", "as": "lab"}],
             "encoding": {
               "y": {"field": "var", "type": "nominal"},
               "color": {"field": "grp", "type": "nominal", "legend": null}
             },
             "layer": [
               {"mark": {"type": "rule", "strokeWidth": 5}, "encoding": {"x": {"field": "lo", "type": "quantitative"}, "x2": {"field": "hi"}}},
               {"mark": {"type": "circle", "size": 600, "opacity": 1}, "encoding": {"x": {"field": "est", "type": "quantitative"}}},
               {"mark": {"type": "circle", "size": 60, "opacity": 1}, "encoding": {"x": {"field": "est", "type": "quantitative"}, "color": {"value": "white"}}},
               {"mark": {"type": "text", "align": "left", "baseline": "middle", "fontSize": 14.5, "dy": 1}, "encoding": {"x": {"datum": 0.98, "type": "quantitative"}, "text": {"field": "lab"}, "color": {"value": "#1a1a1a"}}}
             ]},
            {"data": {"values": [{"var": "Ne", "letter": "F)"}]}, "mark": {"type": "text", "align": "left", "baseline": "middle", "fontSize": 20, "dy": 2},
             "encoding": {"x": {"datum": -1, "type": "quantitative"}, "y": {"field": "var", "type": "nominal"}, "text": {"field": "letter"}, "color": {"value": "black"}}}
          ]
        }
      ]
    },
    {
      "spacing": 27,
      "hconcat": [
        {
          "width": 449, "height": 156,
          "layer": [
            {"data": {"name": "pts"}, "transform": [{"filter": "datum.set === 'Forest' && datum.eff === 'Patch distance'"}, {"calculate": "datum.set + ' ' + datum.var", "as": "grp"}],
             "mark": {"type": "circle", "size": 64, "opacity": 0.32},
             "encoding": {
               "x": {"field": "x", "type": "quantitative"},
               "y": {"field": "var", "type": "nominal", "scale": {"type": "band", "domain": ["Ne", "Gene diversity", "Fst", "Allelic richness"], "paddingInner": 0, "paddingOuter": 0.09}, "axis": {"title": null, "labelFontSize": 24, "labelPadding": 14}},
               "yOffset": {"field": "j", "type": "quantitative", "scale": {"domain": [-1, 1]}},
               "color": {"field": "grp", "type": "nominal", "legend": null, "scale": {"domain": ["Forest Ne", "Forest Gene diversity", "Forest Fst", "Forest Allelic richness", "Species Ne", "Species Gene diversity", "Species Fst", "Species Allelic richness"], "range": ["#7ea35e", "#3d6538", "#b9c021", "#587c30", "#3ba9de", "#5aaa8c", "#e6a73e", "#8b9fcb"]}}
             }},
            {"data": {"values": [{"z": 0}]}, "mark": {"type": "rule", "color": "black", "strokeWidth": 1.8},
             "encoding": {"x": {"field": "z", "type": "quantitative", "scale": {"domain": [-1.15, 2.02], "nice": false, "zero": false}, "axis": {"values": [-1, 0, 1], "labels": false, "title": null}}}},
            {"data": {"name": "est"}, "transform": [{"filter": "datum.set === 'Forest' && datum.eff === 'Patch distance'"}, {"calculate": "datum.set + ' ' + datum.var", "as": "grp"}, {"calculate": "datum.est + ' [' + datum.lo + ' to ' + datum.hi + ']'", "as": "lab"}],
             "encoding": {
               "y": {"field": "var", "type": "nominal"},
               "color": {"field": "grp", "type": "nominal", "legend": null}
             },
             "layer": [
               {"mark": {"type": "rule", "strokeWidth": 5}, "encoding": {"x": {"field": "lo", "type": "quantitative"}, "x2": {"field": "hi"}}},
               {"mark": {"type": "circle", "size": 600, "opacity": 1}, "encoding": {"x": {"field": "est", "type": "quantitative"}}},
               {"mark": {"type": "circle", "size": 60, "opacity": 1}, "encoding": {"x": {"field": "est", "type": "quantitative"}, "color": {"value": "white"}}},
               {"mark": {"type": "text", "align": "left", "baseline": "middle", "fontSize": 14.5, "dy": 1}, "encoding": {"x": {"datum": 0.9, "type": "quantitative"}, "text": {"field": "lab"}, "color": {"value": "#1a1a1a"}}}
             ]},
            {"data": {"values": [{"var": "Ne", "letter": "C)"}]}, "mark": {"type": "text", "align": "left", "baseline": "middle", "fontSize": 20, "dy": 2},
             "encoding": {"x": {"datum": -1, "type": "quantitative"}, "y": {"field": "var", "type": "nominal"}, "text": {"field": "letter"}, "color": {"value": "black"}}}
          ]
        },
        {
          "width": 449, "height": 156,
          "layer": [
            {"data": {"name": "pts"}, "transform": [{"filter": "datum.set === 'Species' && datum.eff === 'Patch distance'"}, {"calculate": "datum.set + ' ' + datum.var", "as": "grp"}],
             "mark": {"type": "circle", "size": 64, "opacity": 0.32},
             "encoding": {
               "x": {"field": "x", "type": "quantitative"},
               "y": {"field": "var", "type": "nominal", "scale": {"type": "band", "domain": ["Ne", "Gene diversity", "Fst", "Allelic richness"], "paddingInner": 0, "paddingOuter": 0.09}, "axis": {"labels": false, "title": "Patch distance", "titleX": 473, "titleY": 78, "titleAngle": 90, "titleFontSize": 19, "titleAlign": "center", "titleBaseline": "middle"}},
               "yOffset": {"field": "j", "type": "quantitative", "scale": {"domain": [-1, 1]}},
               "color": {"field": "grp", "type": "nominal", "legend": null, "scale": {"domain": ["Forest Ne", "Forest Gene diversity", "Forest Fst", "Forest Allelic richness", "Species Ne", "Species Gene diversity", "Species Fst", "Species Allelic richness"], "range": ["#7ea35e", "#3d6538", "#b9c021", "#587c30", "#3ba9de", "#5aaa8c", "#e6a73e", "#8b9fcb"]}}
             }},
            {"data": {"values": [{"z": 0}]}, "mark": {"type": "rule", "color": "black", "strokeWidth": 1.8},
             "encoding": {"x": {"field": "z", "type": "quantitative", "scale": {"domain": [-1.15, 2.02], "nice": false, "zero": false}, "axis": {"values": [-1, 0, 1], "labels": false, "title": null}}}},
            {"data": {"name": "est"}, "transform": [{"filter": "datum.set === 'Species' && datum.eff === 'Patch distance'"}, {"calculate": "datum.set + ' ' + datum.var", "as": "grp"}, {"calculate": "datum.est + ' [' + datum.lo + ' to ' + datum.hi + ']'", "as": "lab"}],
             "encoding": {
               "y": {"field": "var", "type": "nominal"},
               "color": {"field": "grp", "type": "nominal", "legend": null}
             },
             "layer": [
               {"mark": {"type": "rule", "strokeWidth": 5}, "encoding": {"x": {"field": "lo", "type": "quantitative"}, "x2": {"field": "hi"}}},
               {"mark": {"type": "circle", "size": 600, "opacity": 1}, "encoding": {"x": {"field": "est", "type": "quantitative"}}},
               {"mark": {"type": "circle", "size": 60, "opacity": 1}, "encoding": {"x": {"field": "est", "type": "quantitative"}, "color": {"value": "white"}}},
               {"mark": {"type": "text", "align": "left", "baseline": "middle", "fontSize": 14.5, "dy": 1}, "encoding": {"x": {"datum": 0.98, "type": "quantitative"}, "text": {"field": "lab"}, "color": {"value": "#1a1a1a"}}}
             ]},
            {"data": {"values": [{"var": "Ne", "letter": "G)"}]}, "mark": {"type": "text", "align": "left", "baseline": "middle", "fontSize": 20, "dy": 2},
             "encoding": {"x": {"datum": -1, "type": "quantitative"}, "y": {"field": "var", "type": "nominal"}, "text": {"field": "letter"}, "color": {"value": "black"}}}
          ]
        }
      ]
    },
    {
      "spacing": 27,
      "bounds": "flush",
      "hconcat": [
        {
          "width": 449, "height": 156,
          "layer": [
            {"data": {"name": "pts"}, "transform": [{"filter": "datum.set === 'Forest' && datum.eff === 'Patch size'"}, {"calculate": "datum.set + ' ' + datum.var", "as": "grp"}],
             "mark": {"type": "circle", "size": 64, "opacity": 0.32},
             "encoding": {
               "x": {"field": "x", "type": "quantitative"},
               "y": {"field": "var", "type": "nominal", "scale": {"type": "band", "domain": ["Ne", "Gene diversity", "Fst", "Allelic richness"], "paddingInner": 0, "paddingOuter": 0.09}, "axis": {"title": null, "labelFontSize": 24, "labelPadding": 14}},
               "yOffset": {"field": "j", "type": "quantitative", "scale": {"domain": [-1, 1]}},
               "color": {"field": "grp", "type": "nominal", "legend": null, "scale": {"domain": ["Forest Ne", "Forest Gene diversity", "Forest Fst", "Forest Allelic richness", "Species Ne", "Species Gene diversity", "Species Fst", "Species Allelic richness"], "range": ["#7ea35e", "#3d6538", "#b9c021", "#587c30", "#3ba9de", "#5aaa8c", "#e6a73e", "#8b9fcb"]}}
             }},
            {"data": {"values": [{"z": 0}]}, "mark": {"type": "rule", "color": "black", "strokeWidth": 1.8},
             "encoding": {"x": {"field": "z", "type": "quantitative", "scale": {"domain": [-1.15, 2.02], "nice": false, "zero": false}, "axis": {"values": [-1, 0, 1], "labelExpr": "'' + datum.value", "labelFontSize": 24, "labelPadding": 12, "title": "Model coefficients", "titleFontSize": 30, "titleX": 463, "titlePadding": 6}}}},
            {"data": {"name": "est"}, "transform": [{"filter": "datum.set === 'Forest' && datum.eff === 'Patch size'"}, {"calculate": "datum.set + ' ' + datum.var", "as": "grp"}, {"calculate": "datum.est + ' [' + datum.lo + ' to ' + datum.hi + ']'", "as": "lab"}],
             "encoding": {
               "y": {"field": "var", "type": "nominal"},
               "color": {"field": "grp", "type": "nominal", "legend": null}
             },
             "layer": [
               {"mark": {"type": "rule", "strokeWidth": 5}, "encoding": {"x": {"field": "lo", "type": "quantitative"}, "x2": {"field": "hi"}}},
               {"mark": {"type": "circle", "size": 600, "opacity": 1}, "encoding": {"x": {"field": "est", "type": "quantitative"}}},
               {"mark": {"type": "circle", "size": 60, "opacity": 1}, "encoding": {"x": {"field": "est", "type": "quantitative"}, "color": {"value": "white"}}},
               {"mark": {"type": "text", "align": "left", "baseline": "middle", "fontSize": 14.5, "dy": 1}, "encoding": {"x": {"datum": 0.9, "type": "quantitative"}, "text": {"field": "lab"}, "color": {"value": "#1a1a1a"}}}
             ]},
            {"data": {"values": [{"var": "Ne", "letter": "D)"}]}, "mark": {"type": "text", "align": "left", "baseline": "middle", "fontSize": 20, "dy": 2},
             "encoding": {"x": {"datum": -1, "type": "quantitative"}, "y": {"field": "var", "type": "nominal"}, "text": {"field": "letter"}, "color": {"value": "black"}}}
          ]
        },
        {
          "width": 449, "height": 156,
          "layer": [
            {"data": {"name": "pts"}, "transform": [{"filter": "datum.set === 'Species' && datum.eff === 'Patch size'"}, {"calculate": "datum.set + ' ' + datum.var", "as": "grp"}],
             "mark": {"type": "circle", "size": 64, "opacity": 0.32},
             "encoding": {
               "x": {"field": "x", "type": "quantitative"},
               "y": {"field": "var", "type": "nominal", "scale": {"type": "band", "domain": ["Ne", "Gene diversity", "Fst", "Allelic richness"], "paddingInner": 0, "paddingOuter": 0.09}, "axis": {"labels": false, "title": "Patch size", "titleX": 473, "titleY": 78, "titleAngle": 90, "titleFontSize": 19, "titleAlign": "center", "titleBaseline": "middle"}},
               "yOffset": {"field": "j", "type": "quantitative", "scale": {"domain": [-1, 1]}},
               "color": {"field": "grp", "type": "nominal", "legend": null, "scale": {"domain": ["Forest Ne", "Forest Gene diversity", "Forest Fst", "Forest Allelic richness", "Species Ne", "Species Gene diversity", "Species Fst", "Species Allelic richness"], "range": ["#7ea35e", "#3d6538", "#b9c021", "#587c30", "#3ba9de", "#5aaa8c", "#e6a73e", "#8b9fcb"]}}
             }},
            {"data": {"values": [{"z": 0}]}, "mark": {"type": "rule", "color": "black", "strokeWidth": 1.8},
             "encoding": {"x": {"field": "z", "type": "quantitative", "scale": {"domain": [-1.15, 2.02], "nice": false, "zero": false}, "axis": {"values": [-1, 0, 1], "labelExpr": "'' + datum.value", "labelFontSize": 24, "labelPadding": 12, "title": null}}}},
            {"data": {"name": "est"}, "transform": [{"filter": "datum.set === 'Species' && datum.eff === 'Patch size'"}, {"calculate": "datum.set + ' ' + datum.var", "as": "grp"}, {"calculate": "datum.est + ' [' + datum.lo + ' to ' + datum.hi + ']'", "as": "lab"}],
             "encoding": {
               "y": {"field": "var", "type": "nominal"},
               "color": {"field": "grp", "type": "nominal", "legend": null}
             },
             "layer": [
               {"mark": {"type": "rule", "strokeWidth": 5}, "encoding": {"x": {"field": "lo", "type": "quantitative"}, "x2": {"field": "hi"}}},
               {"mark": {"type": "circle", "size": 600, "opacity": 1}, "encoding": {"x": {"field": "est", "type": "quantitative"}}},
               {"mark": {"type": "circle", "size": 60, "opacity": 1}, "encoding": {"x": {"field": "est", "type": "quantitative"}, "color": {"value": "white"}}},
               {"mark": {"type": "text", "align": "left", "baseline": "middle", "fontSize": 14.5, "dy": 1}, "encoding": {"x": {"datum": 0.98, "type": "quantitative"}, "text": {"field": "lab"}, "color": {"value": "#1a1a1a"}}}
             ]},
            {"data": {"values": [{"var": "Ne", "letter": "H)"}]}, "mark": {"type": "text", "align": "left", "baseline": "middle", "fontSize": 20, "dy": 2},
             "encoding": {"x": {"datum": -1, "type": "quantitative"}, "y": {"field": "var", "type": "nominal"}, "text": {"field": "letter"}, "color": {"value": "black"}}}
          ]
        }
      ]
    }
  ],
  "config": {
    "font": "DejaVu Sans",
    "view": {"stroke": null},
    "title": {"font": "DejaVu Sans", "fontWeight": "normal", "color": "black", "fontSize": 25, "offset": 10},
    "axis": {"grid": false, "ticks": false, "tickSize": 0, "domainColor": "black", "domainWidth": 2.3, "labelColor": "#4d4d4d", "labelFont": "DejaVu Sans", "labelFlush": false, "titleFont": "DejaVu Sans", "titleFontWeight": "normal", "titleColor": "black"}
  }
}
